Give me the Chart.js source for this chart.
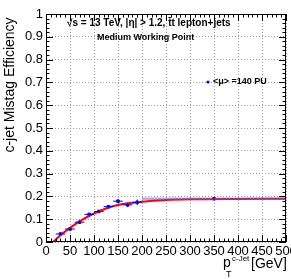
<!DOCTYPE html>
<html>
<head>
<meta charset="utf-8">
<script src="https://cdn.jsdelivr.net/npm/chart.js@4.4.0/dist/chart.umd.min.js"></script>
<style>
  html, body { margin: 0; padding: 0; background: #fff; }
  #wrap { width: 291px; height: 279px; }
</style>
</head>
<body>
<div id="wrap"><canvas id="effChart" width="291" height="279"></canvas></div>
<script>
// measured points (pT bin centre, efficiency) + errors
const ptBins = [30, 50, 70, 90, 110, 130, 150, 170, 190, 350];
const effVals = [0.035, 0.057, 0.087, 0.121, 0.134, 0.155, 0.179, 0.163, 0.174, 0.190];
const ptErr = [10, 10, 10, 10, 10, 10, 10, 10, 10, 150];
const effErr = [0.005, 0.006, 0.006, 0.006, 0.006, 0.007, 0.008, 0.010, 0.012, 0.006];

// fit curve
const fitPt = [15, 30, 50, 75, 100, 125, 150, 175, 200, 250, 300, 400, 500];
const fitEff = [0.0, 0.030, 0.062, 0.097, 0.125, 0.147, 0.162, 0.171, 0.177, 0.184, 0.187, 0.189, 0.190];

const xTicks = [0, 50, 100, 150, 200, 250, 300, 350, 400, 450, 500];
const yTicks = [0, 0.1, 0.2, 0.3, 0.4, 0.5, 0.6, 0.7, 0.8, 0.9, 1];

const ctx = document.getElementById('effChart');

const rootFrame = {
  id: 'rootFrame',
  afterDatasetsDraw(chart) {
    const c = chart.ctx;
    const xs = chart.scales.x, ys = chart.scales.y;
    c.save();
    // error bars
    ptBins.forEach((pt, i) => {
      const px = xs.getPixelForValue(pt), py = ys.getPixelForValue(effVals[i]);
      const wide = i == ptBins.length - 1;
      c.lineWidth = wide ? 2.5 : 1;
      c.strokeStyle = wide ? 'rgba(90,90,255,0.5)' : '#0000ff';
      c.beginPath();
      c.moveTo(xs.getPixelForValue(pt - ptErr[i]), py);
      c.lineTo(xs.getPixelForValue(pt + ptErr[i]), py);
      c.stroke();
      c.lineWidth = 1;
      c.strokeStyle = '#0000ff';
      c.beginPath();
      c.moveTo(px, ys.getPixelForValue(effVals[i] - effErr[i]));
      c.lineTo(px, ys.getPixelForValue(effVals[i] + effErr[i]));
      c.stroke();
    });
    c.restore();
  },
  afterDraw(chart) {
    const c = chart.ctx;
    const xs = chart.scales.x, ys = chart.scales.y;
    const a = chart.chartArea;
    c.save();
    c.strokeStyle = '#000';
    c.lineWidth = 1;
    c.strokeRect(a.left + 0.5, a.top + 0.5, a.right - a.left - 1, a.bottom - a.top - 1);
    // inward ticks, major + minor
    c.beginPath();
    for (let v = 0; v <= 500; v += 10) {
      const px = Math.round(xs.getPixelForValue(v)) + 0.5;
      const len = v % 50 == 0 ? 7 : 3.5;
      c.moveTo(px, a.bottom); c.lineTo(px, a.bottom - len);
      c.moveTo(px, a.top); c.lineTo(px, a.top + len);
    }
    for (let k = 0; k <= 50; k++) {
      const py = Math.round(ys.getPixelForValue(k * 0.02)) + 0.5;
      const len = k % 5 == 0 ? 7 : 3.5;
      c.moveTo(a.left, py); c.lineTo(a.left + len, py);
      c.moveTo(a.right, py); c.lineTo(a.right - len, py);
    }
    c.stroke();

    // annotations
    c.fillStyle = '#000';
    c.textBaseline = 'middle';
    c.textAlign = 'left';
    c.font = 'bold 10px "Liberation Sans", Arial, sans-serif';
    c.fillText('\u221As = 13 TeV, |\u03B7| > 1.2, t\u0304t lepton+jets', 67, 23);
    c.font = 'bold 9px "Liberation Sans", Arial, sans-serif';
    c.fillText('Medium Working Point', 97, 38);

    // legend
    c.fillStyle = '#0000ff';
    c.beginPath();
    c.arc(208, 82, 1.6, 0, Math.PI * 2);
    c.fill();
    c.fillStyle = '#000';
    c.fillText('<\u03BC> =140 PU', 213, 82);

    // axis titles
    c.font = '14px "Liberation Sans", Arial, sans-serif';
    c.save();
    c.translate(14, 85);
    c.rotate(-Math.PI / 2);
    c.textAlign = 'center';
    c.textBaseline = 'alphabetic';
    c.fillText('c-jet Mistag Efficiency', 0, 0);
    c.restore();

    c.textBaseline = 'alphabetic';
    c.textAlign = 'left';
    c.fillText('p', 223, 267);
    c.fillText('[GeV]', 251, 268);
    c.font = '9px "Liberation Sans", Arial, sans-serif';
    c.fillText('T', 226, 277);
    c.font = '8px "Liberation Sans", Arial, sans-serif';
    c.fillText('c-Jet', 232, 261);
    c.restore();
  }
};

new Chart(ctx, {
  type: 'scatter',
  data: {
    datasets: [{
      label: 'fit',
      type: 'line',
      data: fitPt.map((p, i) => ({ x: p, y: fitEff[i] })),
      borderColor: '#ff0000',
      borderWidth: 2,
      pointRadius: 0,
      cubicInterpolationMode: 'monotone',
      fill: false
    }, {
      label: '<\u03BC> =140 PU',
      data: ptBins.map((p, i) => ({ x: p, y: effVals[i] })),
      backgroundColor: '#0000ff',
      borderColor: '#0000ff',
      pointRadius: 1.8,
      pointStyle: 'rect'
    }]
  },
  options: {
    responsive: false,
    animation: false,
    layout: { padding: { top: 14, right: 5, left: 0, bottom: 0 } },
    plugins: { legend: { display: false }, tooltip: { enabled: false } },
    scales: {
      x: {
        type: 'linear',
        min: 0, max: 500,
        afterBuildTicks: s => { s.ticks = xTicks.map(v => ({ value: v })); },
        afterFit: s => { s.height = 37; s.paddingLeft = 0; s.paddingRight = 0; },
        ticks: {
          color: '#000',
          font: { size: 13, family: '"Liberation Sans", Arial, sans-serif' },
          padding: 2,
          maxRotation: 0,
          autoSkip: false
        },
        grid: { color: '#9a9a9a', drawTicks: false, lineWidth: 1 },
        border: { display: false, dash: [1, 2] }
      },
      y: {
        min: 0, max: 1,
        afterBuildTicks: s => { s.ticks = yTicks.map(v => ({ value: v })); },
        afterFit: s => { s.width = 46; s.paddingTop = 0; s.paddingBottom = 0; },
        ticks: {
          color: '#000',
          font: { size: 13, family: '"Liberation Sans", Arial, sans-serif' },
          padding: 3,
          callback: v => String(Math.round(v * 10) / 10)
        },
        grid: { color: '#9a9a9a', drawTicks: false, lineWidth: 1 },
        border: { display: false, dash: [1, 2] }
      }
    }
  },
  plugins: [rootFrame]
});
</script>
</body>
</html>
